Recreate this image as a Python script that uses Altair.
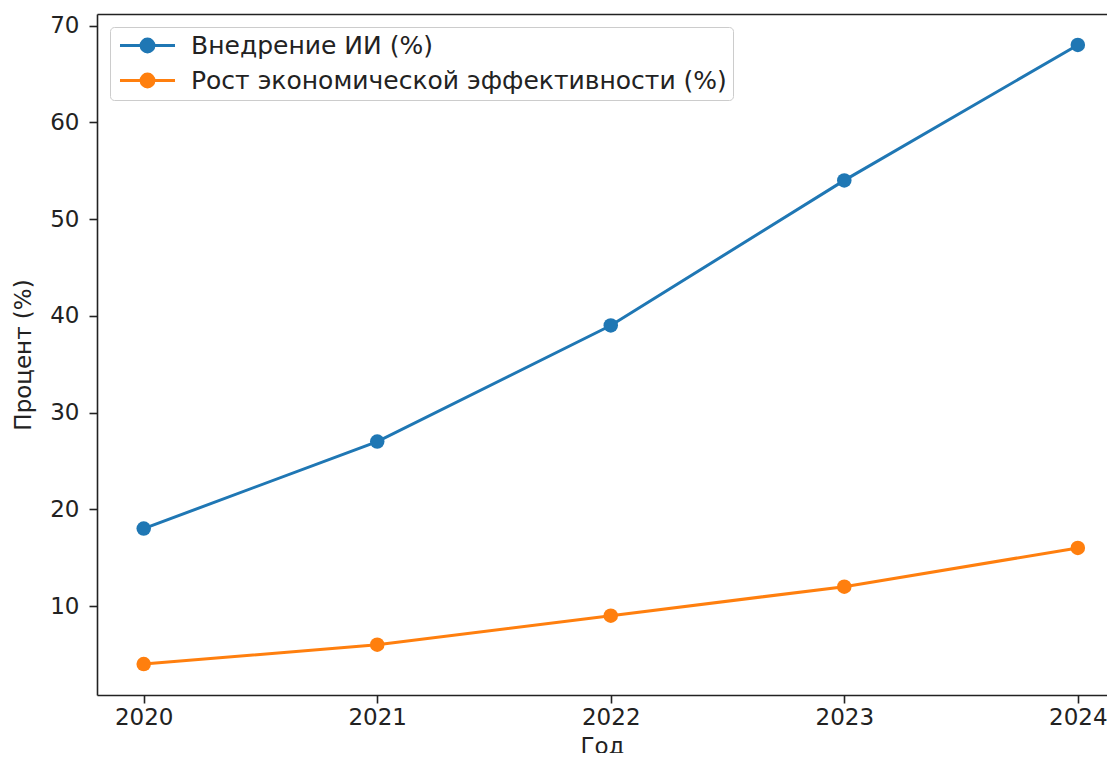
import altair as alt
import pandas as pd

years = [2020, 2021, 2022, 2023, 2024]
adoption = [18, 27, 39, 54, 68]
efficiency = [4, 6, 9, 12, 16]
series_names = ["Внедрение ИИ (%)", "Рост экономической эффективности (%)"]
series_colors = ["#1f77b4", "#ff7f0e"]
y_ticks = [10, 20, 30, 40, 50, 60, 70]

rows = []
for y, a, e in zip(years, adoption, efficiency):
    rows.append({"year": y, "value": a, "series": series_names[0]})
    rows.append({"year": y, "value": e, "series": series_names[1]})
df = pd.DataFrame(rows)

FONT = "DejaVu Sans"
TXT = "#222222"

x_scale = alt.Scale(domain=[2019.8, 2024.125], nice=False, zero=False)
y_scale = alt.Scale(domain=[0.8, 71.2], nice=False, zero=False)

legend_path = ("M-3.44,0H3.44 "
               "M-0.8,0A0.8,0.8 0 1,0 0.8,0A0.8,0.8 0 1,0 -0.8,0Z")

def make_legend():
    return alt.Legend(
        title=None, orient="top-left", offset=13,
        symbolType=legend_path, symbolSize=256,
        symbolStrokeWidth=3, symbolOffset=19, symbolOpacity=1,
        labelOffset=31, rowPadding=9, padding=6,
        labelFontSize=25, labelFont=FONT, labelColor=TXT,
        labelLimit=900,
        fillColor="white", strokeColor="#cccccc",
        cornerRadius=4,
    )

color_scale = alt.Scale(domain=series_names, range=series_colors)

x_enc = alt.X("year:Q", scale=x_scale,
              axis=alt.Axis(values=years, format="d", title="Год",
                            labelPadding=3, titlePadding=6,
                            labelFlush=False, labelOverlap=False))
y_enc = alt.Y("value:Q", scale=y_scale,
              axis=alt.Axis(values=y_ticks, title="Процент (%)",
                            labelPadding=10, titlePadding=14,
                            labelOverlap=False))

lines = alt.Chart(df).mark_line(strokeWidth=3).encode(
    x=x_enc, y=y_enc,
    stroke=alt.Stroke("series:N", scale=color_scale, sort=series_names,
                      legend=make_legend()),
)

points = alt.Chart(df).mark_circle(size=210, opacity=1).encode(
    x=x_enc, y=y_enc,
    fill=alt.Fill("series:N", scale=color_scale, sort=series_names,
                  legend=make_legend()),
)

data_layer = alt.layer(lines, points)

top_spine = alt.Chart(df).mark_point(opacity=0).encode(
    x=alt.X("year:Q", scale=x_scale,
            axis=alt.Axis(orient="top", labels=False, ticks=False,
                          domain=True, title=None, grid=False)),
)

chart = alt.layer(data_layer, top_spine).resolve_axis(x="independent").properties(
    width=1010,
    height=681,
    autosize=alt.AutoSizeParams(type="none"),
    padding={"left": 89, "top": 6, "right": 0, "bottom": 58},
    background="white",
).configure_view(
    strokeWidth=0,
).configure_axis(
    grid=False,
    labelFont=FONT, labelFontSize=23, labelColor=TXT,
    titleFont=FONT, titleFontSize=23, titleColor=TXT, titleFontWeight="normal",
    domainColor="#222222", domainWidth=1.6,
    tickColor="#222222", tickWidth=1.6, tickSize=8,
)

chart.save("out.html", embed_options={"renderer": "svg", "actions": False})
